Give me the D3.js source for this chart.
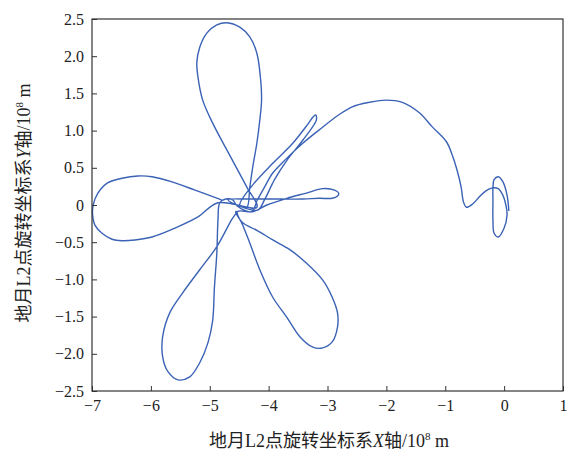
<!DOCTYPE html>
<html>
<head>
<meta charset="utf-8">
<script src="https://cdn.jsdelivr.net/npm/d3@7"></script>
<style>
  body { margin: 0; background: #fff; }
  svg text { font-family: "Liberation Serif", "Noto Sans CJK SC", serif; }
</style>
</head>
<body>
<div id="chart"></div>
<script>
// tick values
const xTicks = [-7, -6, -5, -4, -3, -2, -1, 0, 1];
const yTicks = [2.5, 2.0, 1.5, 1.0, 0.5, 0, -0.5, -1.0, -1.5, -2.0, -2.5];

// trajectory pieces, [x, y] in 1e8 m
const petalLeft = [[-4.80,0.07],[-5.25,0.20],[-5.64,0.31],[-5.98,0.38],[-6.22,0.39],[-6.49,0.36],[-6.73,0.30],[-6.90,0.16],[-6.98,0.00],[-6.99,-0.13],[-6.95,-0.27],[-6.83,-0.38],[-6.66,-0.46],[-6.49,-0.48],[-6.27,-0.47],[-5.98,-0.43],[-5.59,-0.31],[-5.20,-0.16],[-4.86,0.03]];
const petalTop = [[-4.20,-0.03],[-4.37,0.24],[-4.71,0.74],[-4.95,1.10],[-5.12,1.41],[-5.20,1.72],[-5.22,1.91],[-5.17,2.12],[-5.05,2.31],[-4.88,2.42],[-4.71,2.45],[-4.49,2.39],[-4.32,2.26],[-4.20,2.04],[-4.14,1.72],[-4.12,1.41],[-4.15,1.14],[-4.20,0.83],[-4.27,0.51],[-4.32,0.24],[-4.37,-0.03]];
const petalNarrow = [[-4.49,0.00],[-4.27,0.27],[-3.93,0.56],[-3.59,0.83],[-3.34,1.08],[-3.25,1.18],[-3.20,1.21],[-3.19,1.14],[-3.42,0.87],[-3.69,0.60],[-3.90,0.34],[-4.07,0.07],[-4.19,-0.07]];
const petalRight = [[-4.69,0.07],[-4.32,0.08],[-3.81,0.08],[-3.42,0.08],[-3.14,0.09],[-2.92,0.09],[-2.83,0.12],[-2.81,0.16],[-2.88,0.20],[-3.08,0.22],[-3.36,0.16],[-3.69,0.09],[-4.03,0.00],[-4.27,-0.09]];
const petalLowRight = [[-4.53,-0.09],[-4.44,-0.27],[-4.32,-0.51],[-4.15,-0.87],[-3.93,-1.24],[-3.69,-1.51],[-3.47,-1.77],[-3.25,-1.91],[-3.08,-1.92],[-2.92,-1.84],[-2.83,-1.64],[-2.83,-1.45],[-2.92,-1.24],[-3.08,-1.01],[-3.36,-0.78],[-3.64,-0.60],[-3.93,-0.47],[-4.20,-0.34],[-4.44,-0.24],[-4.56,-0.09]];
const petalLowLeft = [[-4.54,-0.09],[-4.63,-0.20],[-4.88,-0.56],[-5.17,-0.87],[-5.46,-1.18],[-5.68,-1.45],[-5.80,-1.77],[-5.80,-2.04],[-5.71,-2.24],[-5.54,-2.35],[-5.34,-2.31],[-5.17,-2.12],[-5.03,-1.85],[-4.95,-1.55],[-4.92,-1.10],[-4.88,-0.65],[-4.86,-0.20],[-4.83,0.03],[-4.73,0.08],[-4.61,0.07],[-4.54,-0.01]];
const transfer = [[-4.29,-0.09],[-4.19,0.07],[-4.07,0.24],[-3.93,0.43],[-3.69,0.63],[-3.42,0.83],[-3.14,1.01],[-2.83,1.20],[-2.58,1.32],[-2.29,1.38],[-2.00,1.41],[-1.73,1.38],[-1.44,1.24],[-1.22,1.05],[-0.98,0.85],[-0.88,0.67],[-0.80,0.47],[-0.73,0.24],[-0.69,0.04],[-0.64,-0.03],[-0.54,0.01],[-0.42,0.11],[-0.31,0.19],[-0.20,0.23],[-0.10,0.22],[-0.02,0.13],[0.03,0.00],[0.05,-0.13],[0.00,-0.31],[-0.10,-0.43],[-0.17,-0.38],[-0.19,-0.20],[-0.19,0.07],[-0.19,0.23],[-0.17,0.34],[-0.10,0.38],[-0.02,0.31],[0.05,0.13],[0.08,-0.08]];

const track = [].concat(petalLeft, petalTop, petalNarrow, petalRight, petalLowRight, petalLowLeft, transfer);

const width = 572, height = 454;
const margin = {top: 19, right: 9, bottom: 63, left: 92};

const svg = d3.select('#chart').append('svg')
  .attr('width', width)
  .attr('height', height);

const x = d3.scaleLinear().domain([-7, 1]).range([margin.left, width - margin.right]);
const y = d3.scaleLinear().domain([-2.5, 2.5]).range([height - margin.bottom, margin.top]);

const minus = v => (v < 0 ? '\u2212' : '') + Math.abs(v);
const fmtY = v => v === 0 ? '0' : (v < 0 ? '\u2212' : '') + Math.abs(v).toFixed(1);

// trajectory
svg.append('path')
  .datum(track)
  .attr('fill', 'none')
  .attr('stroke', '#3a62b5')
  .attr('stroke-width', 1.4)
  .attr('d', d3.line()
    .x(d => x(d[0]))
    .y(d => y(d[1]))
    .curve(d3.curveCatmullRom.alpha(0.5)));

// axes
const gx = svg.append('g')
  .attr('transform', `translate(0,${height - margin.bottom})`)
  .call(d3.axisBottom(x).tickValues(xTicks).tickFormat(minus).tickSizeInner(-5).tickSizeOuter(0).tickPadding(9));

const gy = svg.append('g')
  .attr('transform', `translate(${margin.left},0)`)
  .call(d3.axisLeft(y).tickValues(yTicks).tickFormat(fmtY).tickSizeInner(-5).tickSizeOuter(0).tickPadding(8));

[gx, gy].forEach(g => {
  g.select('.domain').remove();
  g.selectAll('line').attr('stroke', '#333');
  g.selectAll('text').attr('font-size', 16).attr('fill', '#222')
    .style('font-family', '"Liberation Serif", serif');
});

svg.append('rect')
  .attr('x', margin.left)
  .attr('y', margin.top)
  .attr('width', width - margin.left - margin.right)
  .attr('height', height - margin.top - margin.bottom)
  .attr('fill', 'none')
  .attr('stroke', '#333')
  .attr('stroke-width', 1.2);

// axis titles
function title(sel, letter) {
  sel.append('tspan').style('font-family', '"Noto Sans CJK SC"').text('地月');
  sel.append('tspan').text('L2');
  sel.append('tspan').style('font-family', '"Noto Sans CJK SC"').text('点旋转坐标系');
  sel.append('tspan').attr('font-style', 'italic').text(letter);
  sel.append('tspan').style('font-family', '"Noto Sans CJK SC"').text('轴');
  sel.append('tspan').text('/10');
  sel.append('tspan').attr('font-size', 11).attr('dy', -7).text('8');
  sel.append('tspan').attr('dy', 7).text(' m');
}

const xTitle = svg.append('text')
  .attr('x', 329)
  .attr('y', 447)
  .attr('text-anchor', 'middle')
  .attr('font-size', 18)
  .attr('fill', '#222');
title(xTitle, 'X');

const yTitle = svg.append('text')
  .attr('transform', `translate(30,203) rotate(-90)`)
  .attr('text-anchor', 'middle')
  .attr('font-size', 18)
  .attr('fill', '#222');
title(yTitle, 'Y');
</script>
</body>
</html>
